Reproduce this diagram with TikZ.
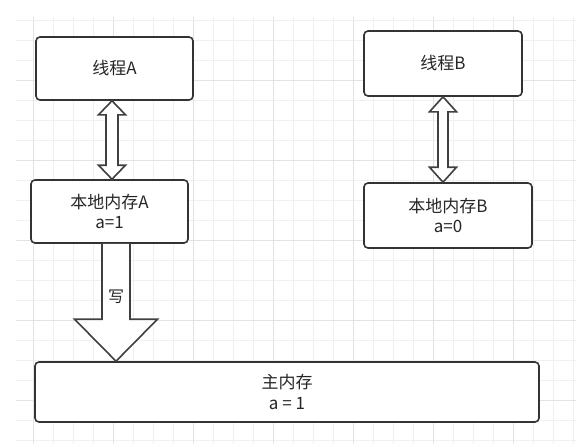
\documentclass[tikz,border=0pt]{standalone}
\usepackage{fontspec}
\setmainfont{Noto Sans CJK SC}
\usepackage{tikz}
\usetikzlibrary{calc}

\begin{document}
\begin{tikzpicture}[x = 1pt, y = -1pt,
    box/.style = {draw=black!80, line width=1.6pt, rounded corners=4pt, fill=white,
                  align=center, text=black!85, font=\fontsize{17}{20}\selectfont},
    blockarrow/.style = {draw=black!75, line width=1.6pt, fill=white, line join=miter},
    gridminor/.style = {draw=black!6, line width=0.8pt},
    gridmajor/.style = {draw=black!11, line width=0.8pt}]
          \useasboundingbox[fill=white] (0,0) rectangle (581,444);
          \foreach \gx in {33,53,...,573} \draw[gridminor] (\gx,17) -- (\gx,444);
          \foreach \gy in {20.7,40.7,...,440.7} \draw[gridminor] (16,\gy) -- (576,\gy);
          \foreach \gx in {33,113,...,513} \draw[gridmajor] (\gx,17) -- (\gx,444);
          \foreach \gy in {80.7,160.7,...,400.7} \draw[gridmajor] (16,\gy) -- (576,\gy);
          \node[box, minimum width=157pt, minimum height=63pt] (ta) at (114.5,68.5) {线程A};
          \node[box, minimum width=157pt, minimum height=63pt] (la) at (109.5,211.5) {本地内存A\\a=1};
          \node[box, minimum width=158pt, minimum height=65pt] (tb) at (443,63.5) {线程B};
          \node[box, minimum width=168pt, minimum height=65pt] (lb) at (448,215.5) {本地内存B\\a=0};
          \node[box, minimum width=504pt, minimum height=60pt, font=\fontsize{17}{21}\selectfont] (mm) at (287,392) {主内存\\a = 1};
          \coordinate (at) at (112,0 |- ta.south);
          \coordinate (ab) at (112,0 |- la.north);
          \draw[blockarrow] (at) -- ($(at)+(13.5,14)$) -- ($(at)+(6,14)$) -- ($(ab)+(6,-14)$)
            -- ($(ab)+(13.5,-14)$) -- (ab) -- ($(ab)+(-13.5,-14)$) -- ($(ab)+(-6,-14)$)
            -- ($(at)+(-6,14)$) -- ($(at)+(-13.5,14)$) -- cycle;
          \coordinate (bt) at (443,0 |- tb.south);
          \coordinate (bb) at (443,0 |- lb.north);
          \draw[blockarrow] (bt) -- ($(bt)+(13.5,15)$) -- ($(bt)+(5,15)$) -- ($(bb)+(5,-15)$)
            -- ($(bb)+(13.5,-15)$) -- (bb) -- ($(bb)+(-13.5,-15)$) -- ($(bb)+(-5,-15)$)
            -- ($(bt)+(-5,15)$) -- ($(bt)+(-13.5,15)$) -- cycle;
          \coordinate (wt) at (116,0 |- la.south);
          \coordinate (wb) at (116,0 |- mm.north);
          \draw[blockarrow] ($(wt)+(-14,0)$) -- ($(wb)+(-14,-42)$) -- ($(wb)+(-41.5,-42)$) -- (wb)
            -- ($(wb)+(41.5,-42)$) -- ($(wb)+(14,-42)$) -- ($(wt)+(14,0)$);
          \node[text=black!85, font=\fontsize{16}{18}\selectfont] (w) at (116,297) {写};
        \end{tikzpicture}
\end{document}
